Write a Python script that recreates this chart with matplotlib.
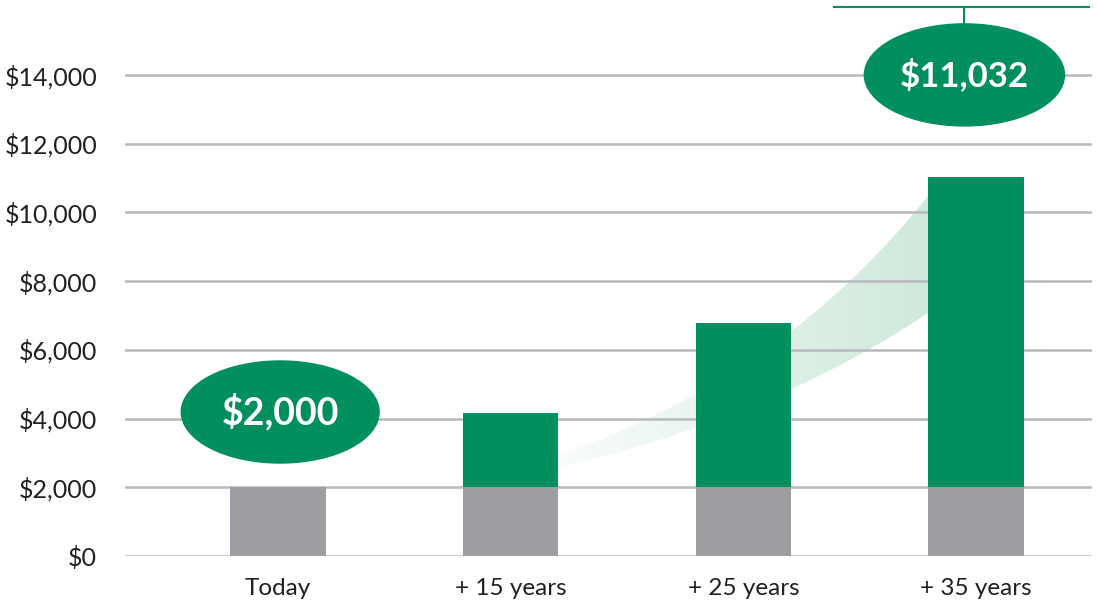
import numpy as np
import matplotlib
matplotlib.use("Agg")
from matplotlib import pyplot as plt
from matplotlib.patches import Ellipse, Polygon

plt.rcParams['font.family'] = ['Lato', 'DejaVu Sans']

# data
labels = ['Today', '+ 15 years', '+ 25 years', '+ 35 years']
base = [2000, 2000, 2000, 2000]
totals = [2000, 4158, 6773, 11032]
yticks = [0, 2000, 4000, 6000, 8000, 10000, 12000, 14000]

green = '#008f5d'
grey = '#9d9ea2'
gridc = '#b8b9bc'
txt = '#231f20'

fig = plt.figure(figsize=(10.98, 6.04), dpi=100)
ax = fig.add_axes([0.1138, 0.0795, 0.8807, 0.9205])

x = np.arange(len(labels))
growth = [t - b for t, b in zip(totals, base)]

# decorative growth band (gradient, behind everything)
xs = np.linspace(0.9, 2.84, 80)
upper = 2940 * np.exp(0.80 * (xs - 1.206))
lower = 2561 * np.exp(0.64 * (xs - 1.206))
verts = np.concatenate([np.column_stack([xs, upper]),
                        np.column_stack([xs[::-1], lower[::-1]])])
band = Polygon(verts, closed=True, facecolor='none', edgecolor='none')
ax.add_patch(band)
grad = np.linspace(0, 1, 256).reshape(1, -1)
cmap = matplotlib.colors.LinearSegmentedColormap.from_list(
    'band', ['#ffffff', '#cde8da'])
im = ax.imshow(grad, cmap=cmap, aspect='auto', extent=[1.0, 2.85, 0, 12000],
               zorder=1)
im.set_clip_path(band)

# grid
for t in yticks:
    ax.axhline(t, color=gridc, lw=1.8, zorder=2)

# bars
ax.bar(x, base, width=0.41, color=grey, zorder=3)
ax.bar(x[1:], growth[1:], bottom=base[1:], width=0.41, color=green, zorder=3)

# bubbles
ax.add_patch(Ellipse((0.01, 4190), 0.85, 2970, color=green, zorder=5))
ax.text(0.01, 4190, '${:,}'.format(totals[0]), color='white', fontsize=27,
        fontweight='bold', ha='center', va='center', zorder=6)
ax.add_patch(Ellipse((2.95, 14000), 0.86, 2970, color=green, zorder=5))
ax.text(2.95, 14000, '${:,}'.format(totals[-1]), color='white', fontsize=25,
        fontweight='bold', ha='center', va='center', zorder=6)

# bracket at the top
ax.plot([2.39, 3.485], [15980, 15980], color=green, lw=1.5, clip_on=False,
        zorder=5)
ax.plot([2.95, 2.95], [15980, 15485], color=green, lw=1.5, clip_on=False,
        zorder=5)

ax.set_xlim(-0.657, 3.498)
ax.set_ylim(0, 16180)
ax.set_xticks(x)
ax.set_xticklabels(labels, fontsize=17.5, color=txt)
ax.set_yticks(yticks)
ax.set_yticklabels(['${:,}'.format(t) for t in yticks], fontsize=18,
                   color=txt)
ax.tick_params(length=0)
ax.tick_params(axis='y', pad=20)
ax.tick_params(axis='x', pad=16)
for s in ax.spines.values():
    s.set_visible(False)

fig.savefig('out.png', dpi=100)
